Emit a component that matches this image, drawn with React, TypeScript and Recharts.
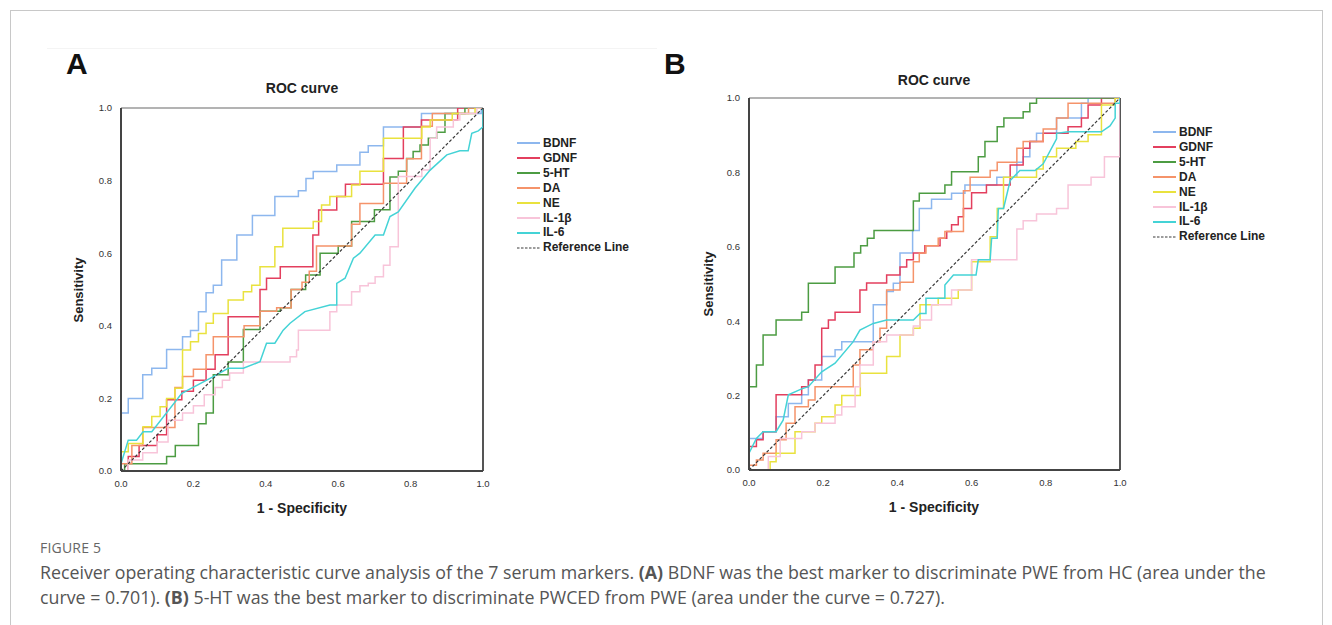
import React from 'react';
import { LineChart, Line, XAxis, YAxis, ReferenceLine, Legend } from 'recharts';

type Pt = [number, number];

// marker names and axis ticks
const markers = ['BDNF', 'GDNF', '5-HT', 'DA', 'NE', 'IL-1β', 'IL-6'];
const axisTicks = [0, 0.2, 0.4, 0.6, 0.8, 1.0];
const referencePts: Pt[] = [[0, 0], [1, 1]];

// panel A: ROC points (1 - specificity, sensitivity)
const aBDNF: Pt[] = [[0,0],[0,0.16],[0.02,0.16],[0.02,0.2],[0.06,0.2],[0.06,0.265],[0.085,0.265],[0.085,0.283],[0.126,0.283],[0.126,0.335],[0.17,0.335],[0.17,0.37],[0.192,0.37],[0.192,0.387],[0.214,0.387],[0.214,0.439],[0.235,0.439],[0.235,0.491],[0.255,0.491],[0.255,0.512],[0.278,0.512],[0.278,0.581],[0.32,0.581],[0.32,0.65],[0.363,0.65],[0.363,0.704],[0.425,0.704],[0.425,0.756],[0.49,0.756],[0.49,0.772],[0.511,0.772],[0.511,0.806],[0.531,0.806],[0.531,0.825],[0.596,0.825],[0.596,0.843],[0.66,0.843],[0.66,0.878],[0.683,0.878],[0.683,0.896],[0.725,0.896],[0.725,0.948],[0.83,0.948],[0.83,0.985],[0.995,0.985],[0.995,1],[1,1]];
const aGDNF: Pt[] = [[0,0],[0.02,0],[0.02,0.04],[0.05,0.04],[0.05,0.07],[0.1,0.07],[0.1,0.1],[0.126,0.1],[0.126,0.196],[0.168,0.196],[0.168,0.22],[0.2,0.22],[0.2,0.25],[0.235,0.25],[0.235,0.28],[0.26,0.28],[0.26,0.32],[0.296,0.32],[0.296,0.425],[0.384,0.425],[0.384,0.5],[0.402,0.5],[0.402,0.531],[0.44,0.531],[0.44,0.563],[0.53,0.563],[0.53,0.65],[0.546,0.65],[0.546,0.719],[0.596,0.719],[0.596,0.756],[0.62,0.756],[0.62,0.79],[0.725,0.79],[0.725,0.861],[0.78,0.861],[0.78,0.948],[0.83,0.948],[0.83,0.967],[0.93,0.967],[0.93,1],[1,1]];
const a5HT: Pt[] = [[0,0],[0.01,0],[0.01,0.02],[0.126,0.02],[0.126,0.04],[0.15,0.04],[0.15,0.07],[0.214,0.07],[0.214,0.13],[0.235,0.13],[0.235,0.16],[0.255,0.16],[0.255,0.265],[0.296,0.265],[0.296,0.3],[0.338,0.3],[0.338,0.39],[0.384,0.39],[0.384,0.44],[0.44,0.44],[0.44,0.45],[0.47,0.45],[0.47,0.5],[0.51,0.5],[0.51,0.54],[0.55,0.54],[0.55,0.6],[0.6,0.6],[0.6,0.62],[0.637,0.62],[0.637,0.687],[0.7,0.687],[0.7,0.72],[0.743,0.72],[0.743,0.81],[0.766,0.81],[0.766,0.826],[0.789,0.826],[0.789,0.861],[0.807,0.861],[0.807,0.88],[0.826,0.88],[0.826,0.898],[0.849,0.898],[0.849,0.917],[0.872,0.917],[0.872,0.933],[0.895,0.933],[0.895,0.985],[0.95,0.985],[0.95,1],[1,1]];
const aDA: Pt[] = [[0,0],[0,0.02],[0.03,0.02],[0.03,0.07],[0.06,0.07],[0.06,0.12],[0.149,0.12],[0.149,0.23],[0.17,0.23],[0.17,0.26],[0.2,0.26],[0.2,0.28],[0.235,0.28],[0.235,0.32],[0.255,0.32],[0.255,0.37],[0.34,0.37],[0.34,0.4],[0.384,0.4],[0.384,0.44],[0.43,0.44],[0.43,0.45],[0.47,0.45],[0.47,0.5],[0.5,0.5],[0.5,0.52],[0.52,0.52],[0.52,0.55],[0.54,0.55],[0.54,0.62],[0.637,0.62],[0.637,0.68],[0.66,0.68],[0.66,0.737],[0.725,0.737],[0.725,0.793],[0.789,0.793],[0.789,0.86],[0.83,0.86],[0.83,0.95],[0.86,0.95],[0.86,0.985],[0.96,0.985],[0.96,1],[1,1]];
const aNE: Pt[] = [[0,0],[0,0.053],[0.02,0.053],[0.02,0.076],[0.043,0.076],[0.061,0.076],[0.061,0.122],[0.085,0.122],[0.085,0.15],[0.108,0.15],[0.108,0.177],[0.126,0.177],[0.126,0.2],[0.149,0.2],[0.149,0.228],[0.17,0.228],[0.17,0.333],[0.192,0.333],[0.192,0.356],[0.214,0.356],[0.214,0.379],[0.235,0.379],[0.235,0.407],[0.255,0.407],[0.255,0.434],[0.296,0.434],[0.296,0.471],[0.338,0.471],[0.338,0.494],[0.361,0.494],[0.361,0.512],[0.384,0.512],[0.384,0.563],[0.425,0.563],[0.425,0.618],[0.447,0.618],[0.447,0.669],[0.531,0.669],[0.531,0.687],[0.554,0.687],[0.554,0.733],[0.577,0.733],[0.577,0.756],[0.637,0.756],[0.637,0.788],[0.66,0.788],[0.66,0.826],[0.725,0.826],[0.725,0.917],[0.831,0.917],[0.831,0.948],[0.854,0.948],[0.854,0.967],[0.915,0.967],[0.915,0.985],[0.978,0.985],[0.978,1],[1,1]];
const aIL1b: Pt[] = [[0,0],[0.02,0],[0.02,0.03],[0.06,0.03],[0.06,0.05],[0.1,0.05],[0.1,0.08],[0.13,0.08],[0.13,0.14],[0.17,0.14],[0.17,0.16],[0.2,0.16],[0.2,0.18],[0.23,0.18],[0.23,0.21],[0.26,0.21],[0.26,0.23],[0.28,0.23],[0.28,0.25],[0.3,0.25],[0.3,0.27],[0.338,0.27],[0.338,0.3],[0.467,0.3],[0.467,0.315],[0.485,0.315],[0.485,0.333],[0.49,0.333],[0.49,0.388],[0.577,0.388],[0.577,0.439],[0.596,0.439],[0.596,0.457],[0.637,0.457],[0.637,0.494],[0.66,0.494],[0.66,0.51],[0.683,0.51],[0.683,0.517],[0.702,0.517],[0.702,0.535],[0.725,0.535],[0.725,0.567],[0.743,0.567],[0.743,0.618],[0.766,0.618],[0.766,0.811],[0.831,0.811],[0.831,0.829],[0.854,0.829],[0.854,0.917],[0.872,0.917],[0.872,0.948],[0.918,0.948],[0.918,0.967],[0.936,0.967],[0.936,0.985],[0.983,0.985],[0.983,1],[1,1]];
const aIL6: Pt[] = [[0,0],[0,0.02],[0.02,0.085],[0.043,0.085],[0.061,0.108],[0.085,0.108],[0.168,0.214],[0.255,0.26],[0.296,0.283],[0.338,0.283],[0.384,0.301],[0.402,0.352],[0.425,0.352],[0.448,0.388],[0.467,0.407],[0.508,0.439],[0.577,0.457],[0.596,0.457],[0.596,0.517],[0.619,0.531],[0.642,0.586],[0.66,0.6],[0.702,0.65],[0.725,0.65],[0.743,0.701],[0.766,0.714],[0.812,0.779],[0.854,0.829],[0.9,0.871],[0.936,0.882],[0.959,0.882],[0.969,0.93],[0.987,0.937],[1,0.948],[1,1]];

// panel B
const bBDNF: Pt[] = [[0,0],[0,0.085],[0.038,0.085],[0.038,0.103],[0.073,0.103],[0.073,0.143],[0.106,0.143],[0.106,0.179],[0.142,0.179],[0.142,0.202],[0.16,0.202],[0.16,0.242],[0.196,0.242],[0.196,0.305],[0.232,0.305],[0.232,0.323],[0.25,0.323],[0.25,0.345],[0.335,0.345],[0.335,0.444],[0.371,0.444],[0.371,0.48],[0.389,0.48],[0.389,0.502],[0.407,0.502],[0.407,0.583],[0.441,0.583],[0.441,0.644],[0.459,0.644],[0.459,0.703],[0.492,0.703],[0.492,0.728],[0.546,0.728],[0.546,0.744],[0.582,0.744],[0.582,0.766],[0.668,0.766],[0.668,0.787],[0.722,0.787],[0.722,0.827],[0.739,0.827],[0.739,0.842],[0.757,0.842],[0.757,0.883],[0.775,0.883],[0.775,0.905],[0.829,0.905],[0.829,0.946],[0.896,0.946],[0.896,0.986],[0.914,0.986],[0.914,1],[1,1]];
const bGDNF: Pt[] = [[0,0],[0,0.063],[0.02,0.063],[0.02,0.081],[0.038,0.081],[0.038,0.103],[0.073,0.103],[0.073,0.202],[0.142,0.202],[0.142,0.224],[0.16,0.224],[0.16,0.242],[0.178,0.242],[0.178,0.282],[0.196,0.282],[0.196,0.381],[0.214,0.381],[0.214,0.403],[0.232,0.403],[0.232,0.424],[0.299,0.424],[0.299,0.484],[0.317,0.484],[0.317,0.503],[0.371,0.503],[0.371,0.524],[0.407,0.524],[0.407,0.546],[0.425,0.546],[0.425,0.565],[0.443,0.565],[0.443,0.583],[0.474,0.583],[0.474,0.603],[0.515,0.603],[0.515,0.623],[0.533,0.623],[0.533,0.641],[0.546,0.641],[0.546,0.659],[0.564,0.659],[0.564,0.681],[0.578,0.681],[0.578,0.703],[0.6,0.703],[0.6,0.745],[0.64,0.745],[0.64,0.766],[0.704,0.766],[0.704,0.82],[0.739,0.82],[0.739,0.865],[0.757,0.865],[0.757,0.883],[0.793,0.883],[0.793,0.905],[0.86,0.905],[0.86,0.923],[0.896,0.923],[0.896,0.946],[0.914,0.946],[0.914,0.981],[0.95,0.981],[0.95,1],[1,1]];
const b5HT: Pt[] = [[0,0],[0,0.224],[0.02,0.224],[0.02,0.282],[0.038,0.282],[0.038,0.363],[0.073,0.363],[0.073,0.403],[0.142,0.403],[0.142,0.424],[0.16,0.424],[0.16,0.502],[0.232,0.502],[0.232,0.546],[0.283,0.546],[0.283,0.583],[0.301,0.583],[0.301,0.603],[0.319,0.603],[0.319,0.623],[0.337,0.623],[0.337,0.644],[0.443,0.644],[0.443,0.723],[0.459,0.723],[0.459,0.744],[0.528,0.744],[0.528,0.766],[0.546,0.766],[0.546,0.802],[0.618,0.802],[0.618,0.842],[0.636,0.842],[0.636,0.883],[0.669,0.883],[0.669,0.923],[0.687,0.923],[0.687,0.946],[0.739,0.946],[0.739,0.963],[0.757,0.963],[0.757,0.986],[0.775,0.986],[0.775,1],[1,1]];
const bDA: Pt[] = [[0,0],[0,0.013],[0.02,0.013],[0.02,0.027],[0.038,0.027],[0.038,0.045],[0.073,0.045],[0.073,0.081],[0.1,0.081],[0.1,0.126],[0.124,0.126],[0.124,0.17],[0.16,0.17],[0.16,0.188],[0.178,0.188],[0.178,0.224],[0.281,0.224],[0.281,0.282],[0.299,0.282],[0.299,0.323],[0.335,0.323],[0.335,0.345],[0.353,0.345],[0.353,0.381],[0.371,0.381],[0.371,0.484],[0.407,0.484],[0.407,0.505],[0.443,0.505],[0.443,0.56],[0.459,0.56],[0.459,0.583],[0.477,0.583],[0.477,0.603],[0.51,0.603],[0.51,0.623],[0.528,0.623],[0.528,0.641],[0.578,0.641],[0.578,0.751],[0.596,0.751],[0.596,0.787],[0.65,0.787],[0.65,0.805],[0.669,0.805],[0.669,0.827],[0.722,0.827],[0.722,0.865],[0.739,0.865],[0.739,0.883],[0.793,0.883],[0.793,0.917],[0.829,0.917],[0.829,0.946],[0.86,0.946],[0.86,0.986],[0.987,0.986],[0.987,1],[1,1]];
const bNE: Pt[] = [[0,0],[0.057,0],[0.057,0.022],[0.073,0.022],[0.073,0.045],[0.124,0.045],[0.124,0.103],[0.178,0.103],[0.178,0.126],[0.196,0.126],[0.196,0.143],[0.232,0.143],[0.232,0.175],[0.25,0.175],[0.25,0.2],[0.3,0.2],[0.3,0.26],[0.371,0.26],[0.371,0.305],[0.407,0.305],[0.407,0.363],[0.443,0.363],[0.443,0.381],[0.461,0.381],[0.461,0.444],[0.51,0.444],[0.51,0.462],[0.564,0.462],[0.564,0.484],[0.6,0.484],[0.6,0.56],[0.65,0.56],[0.65,0.627],[0.669,0.627],[0.669,0.703],[0.686,0.703],[0.686,0.787],[0.775,0.787],[0.775,0.809],[0.793,0.809],[0.793,0.842],[0.829,0.842],[0.829,0.865],[0.881,0.865],[0.881,0.883],[0.914,0.883],[0.914,0.901],[0.95,0.901],[0.95,0.981],[0.987,0.981],[0.987,1],[1,1]];
const bIL1b: Pt[] = [[0,0],[0.052,0],[0.052,0.036],[0.084,0.036],[0.084,0.085],[0.142,0.085],[0.142,0.103],[0.178,0.103],[0.178,0.126],[0.232,0.126],[0.232,0.148],[0.25,0.148],[0.25,0.17],[0.286,0.17],[0.286,0.224],[0.299,0.224],[0.299,0.282],[0.335,0.282],[0.335,0.345],[0.371,0.345],[0.371,0.363],[0.443,0.363],[0.443,0.387],[0.461,0.387],[0.461,0.403],[0.492,0.403],[0.492,0.444],[0.546,0.444],[0.546,0.484],[0.6,0.484],[0.6,0.565],[0.722,0.565],[0.722,0.648],[0.739,0.648],[0.739,0.67],[0.775,0.67],[0.775,0.688],[0.829,0.688],[0.829,0.703],[0.86,0.703],[0.86,0.766],[0.922,0.766],[0.922,0.787],[0.958,0.787],[0.958,0.842],[1,0.842],[1,1]];
const bIL6: Pt[] = [[0,0],[0,0.045],[0.02,0.085],[0.038,0.103],[0.073,0.103],[0.092,0.134],[0.106,0.202],[0.142,0.218],[0.16,0.224],[0.196,0.264],[0.232,0.287],[0.281,0.345],[0.299,0.376],[0.335,0.394],[0.371,0.403],[0.443,0.403],[0.461,0.421],[0.477,0.421],[0.477,0.462],[0.528,0.462],[0.528,0.497],[0.551,0.524],[0.612,0.524],[0.618,0.565],[0.65,0.565],[0.654,0.623],[0.669,0.623],[0.672,0.703],[0.686,0.703],[0.704,0.778],[0.73,0.805],[0.771,0.805],[0.793,0.823],[0.829,0.89],[0.829,0.905],[0.86,0.909],[0.95,0.909],[0.973,0.925],[0.987,0.946],[0.987,0.986],[1,0.986],[1,1]];

const panelA = [aBDNF, aGDNF, a5HT, aDA, aNE, aIL1b, aIL6];
const panelB = [bBDNF, bGDNF, b5HT, bDA, bNE, bIL1b, bIL6];

const colors = ['#8db7ee', '#e33f5e', '#4c9c42', '#f5936a', '#e9e23e', '#f8c4d9', '#44d3d6'];
const refColor = '#3a3a3a';
const font = "Arial, 'Liberation Sans', sans-serif";
const captionFont = "'Open Sans', sans-serif";

const toRows = (pts: Pt[]) => pts.map(([x, y]) => ({ x, y }));

const LegendBox = () => (
  <div style={{ fontFamily: font, fontWeight: 700, fontSize: 12, color: '#222', lineHeight: '14.9px' }}>
    {markers.map((m, i) => (
      <div key={m} style={{ display: 'flex', alignItems: 'center' }}>
        <svg width={26} height={10}>
          <line x1={0} y1={5} x2={23} y2={5} stroke={colors[i]} strokeWidth={2} />
        </svg>
        <span>{m}</span>
      </div>
    ))}
    <div style={{ display: 'flex', alignItems: 'center' }}>
      <svg width={26} height={10}>
        <line x1={0} y1={5} x2={23} y2={5} stroke={refColor} strokeWidth={1.2} strokeDasharray="2.5 1.5" />
      </svg>
      <span>Reference Line</span>
    </div>
  </div>
);

interface PanelProps {
  curves: Pt[][];
  left: number;
  top: number;
  plotW: number;
  plotH: number;
  legendLeft: number;
  legendTop: number;
}

const RocPanel: React.FC<PanelProps> = ({ curves, left, top, plotW, plotH, legendLeft, legendTop }) => {
  const yAxisW = 31;
  const xAxisH = 22;
  const marginTop = 18;
  const width = 560;
  const height = marginTop + plotH + xAxisH;
  return (
    <div style={{ position: 'absolute', left, top }}>
      <LineChart
        width={width}
        height={height}
        margin={{ top: marginTop, right: width - yAxisW - plotW, left: 0, bottom: 0 }}
      >
        <XAxis
          dataKey="x"
          type="number"
          domain={[0, 1]}
          ticks={axisTicks}
          tickFormatter={(v: number) => v.toFixed(1)}
          height={xAxisH}
          tickLine={false}
          tickMargin={3}
          axisLine={{ stroke: '#444', strokeWidth: 2 }}
          tick={{ fontSize: 9.5, fill: '#333', fontFamily: font }}
          allowDataOverflow
        />
        <YAxis
          type="number"
          domain={[0, 1]}
          ticks={axisTicks}
          tickFormatter={(v: number) => v.toFixed(1)}
          width={yAxisW}
          tickLine={false}
          tickMargin={3}
          axisLine={{ stroke: '#444', strokeWidth: 2 }}
          tick={{ fontSize: 9.5, fill: '#333', fontFamily: font }}
          allowDataOverflow
        />
        <ReferenceLine y={1} stroke="#9a9a9a" strokeWidth={1.5} />
        <ReferenceLine x={1} stroke="#555" strokeWidth={2} />
        {curves.map((pts, i) => (
          <Line
            key={markers[i]}
            name={markers[i]}
            data={toRows(pts)}
            dataKey="y"
            type="linear"
            stroke={colors[i]}
            strokeWidth={1.5}
            dot={false}
            activeDot={false}
            isAnimationActive={false}
          />
        ))}
        <Line
          name="Reference Line"
          data={toRows(referencePts)}
          dataKey="y"
          type="linear"
          stroke={refColor}
          strokeWidth={1.2}
          strokeDasharray="3 2"
          dot={false}
          activeDot={false}
          isAnimationActive={false}
        />
        <Legend
          layout="vertical"
          align="center"
          verticalAlign="middle"
          content={() => <LegendBox />}
          wrapperStyle={{ left: legendLeft - left, top: legendTop - top, width: 'auto' }}
        />
      </LineChart>
    </div>
  );
};

const textAbs = (x: number, y: number, extra: React.CSSProperties = {}): React.CSSProperties => ({
  position: 'absolute',
  left: x,
  top: y,
  fontFamily: font,
  whiteSpace: 'nowrap',
  ...extra,
});

export default function App() {
  return (
    <div style={{ position: 'absolute', left: 0, top: 0, width: 1332, height: 625, background: '#fff', overflow: 'hidden' }}>
      <div style={{ position: 'absolute', left: 10, top: 10, width: 1311, height: 700, border: '1px solid #c8c8c8' }} />
      <div style={{ position: 'absolute', left: 47, top: 48, width: 610, height: 1, background: '#f4f4f4' }} />

      {/* panel A */}
      <div style={textAbs(66, 47, { fontSize: 30, fontWeight: 700, color: '#111' })}>A</div>
      <div style={textAbs(302, 80, { fontSize: 14, fontWeight: 700, color: '#222', transform: 'translateX(-50%)' })}>ROC curve</div>
      <div style={textAbs(78, 290, { fontSize: 13, fontWeight: 700, color: '#222', transform: 'translate(-50%, -50%) rotate(-90deg)' })}>Sensitivity</div>
      <div style={textAbs(302, 500, { fontSize: 14, fontWeight: 700, color: '#222', transform: 'translateX(-50%)' })}>1 - Specificity</div>
      <RocPanel curves={panelA} left={90} top={90} plotW={362} plotH={363} legendLeft={517} legendTop={136} />

      {/* panel B */}
      <div style={textAbs(664, 47, { fontSize: 30, fontWeight: 700, color: '#111' })}>B</div>
      <div style={textAbs(934, 72, { fontSize: 14, fontWeight: 700, color: '#222', transform: 'translateX(-50%)' })}>ROC curve</div>
      <div style={textAbs(708, 284, { fontSize: 13, fontWeight: 700, color: '#222', transform: 'translate(-50%, -50%) rotate(-90deg)' })}>Sensitivity</div>
      <div style={textAbs(934, 499, { fontSize: 14, fontWeight: 700, color: '#222', transform: 'translateX(-50%)' })}>1 - Specificity</div>
      <RocPanel curves={panelB} left={718} top={80} plotW={371} plotH={372} legendLeft={1153} legendTop={125} />

      {/* caption */}
      <div style={textAbs(40, 538, { fontFamily: captionFont, fontSize: 14, color: '#666', letterSpacing: 0.2 })}>FIGURE 5</div>
      <div style={textAbs(40, 560, { fontFamily: captionFont, fontSize: 17.8, color: '#555', lineHeight: '25px' })}>
        Receiver operating characteristic curve analysis of the 7 serum markers. <b>(A)</b> BDNF was the best marker to discriminate PWE from HC (area under the
        <br />
        curve = 0.701). <b>(B)</b> 5-HT was the best marker to discriminate PWCED from PWE (area under the curve = 0.727).
      </div>
    </div>
  );
}
